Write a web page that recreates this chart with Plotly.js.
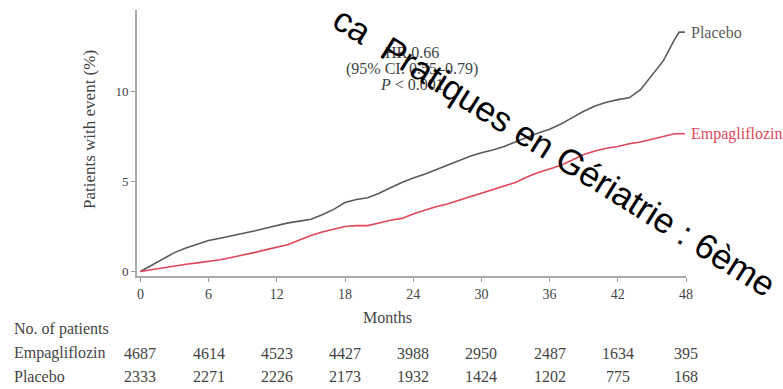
<!DOCTYPE html>
<html>
<head>
<meta charset="utf-8">
<script src="https://cdn.plot.ly/plotly-3.0.1.min.js"></script>
<style>html,body{margin:0;padding:0;background:#fff;}#chart{width:783px;height:389px;}</style>
</head>
<body>
<div id="chart"></div>
<script>
// Months (time axis)
const months = [0,1,2,3,4,5,6,7,8,9,10,11,12,13,14,15,16,17,18,19,20,21,22,23,24,25,26,27,28,29,30,31,32,33,34,35,36,37,38,39,40,41,42,43,44,45,46,47,47.4,47.9];
// Cumulative % of patients with event
const placebo = [0,0.35,0.7,1.05,1.3,1.5,1.72,1.85,1.97,2.1,2.25,2.4,2.55,2.7,2.8,2.9,3.15,3.45,3.83,4.0,4.1,4.35,4.65,4.95,5.2,5.4,5.65,5.9,6.15,6.4,6.6,6.75,6.95,7.2,7.45,7.7,7.9,8.2,8.55,8.9,9.2,9.4,9.55,9.65,10.1,10.9,11.7,12.9,13.3,13.3];
const empagliflozin = [0,0.1,0.22,0.33,0.4,0.48,0.55,0.65,0.78,0.9,1.05,1.2,1.33,1.5,1.75,2.0,2.2,2.35,2.5,2.55,2.55,2.7,2.85,2.95,3.2,3.4,3.6,3.75,3.95,4.15,4.35,4.55,4.75,4.95,5.25,5.5,5.7,5.9,6.2,6.5,6.7,6.85,6.95,7.1,7.2,7.35,7.5,7.65,7.65,7.65];
// Risk table
const riskMonths = [0,6,12,18,24,30,36,42,48];
const riskEmpa = ["4687","4614","4523","4427","3988","2950","2487","1634","395"];
const riskPlacebo = ["2333","2271","2226","2173","1932","1424","1202","775","168"];
const xTicks = [0,6,12,18,24,30,36,42,48];
const yTicks = [0,5,10];
const hrLines = ["HR 0.66", "(95% CI: 0.55–0.79)", "<i>P</i> < 0.001"];

const serif = "Liberation Serif, Times New Roman, serif";
const txt = "#444";
const gray = "#5a5a5a";
const red = "#e0475a";
const tblSize = 16;
const PL = 137, PT = 10, PW = 549, PH = 266;
const px = v => (v - PL) / PW;
const py = v => (PT + PH - v) / PH;

const traces = [
  {x: months, y: placebo, mode: "lines", line: {color: gray, width: 1.6}, hoverinfo: "skip"},
  {x: months, y: empagliflozin, mode: "lines", line: {color: red, width: 1.6}, hoverinfo: "skip"}
];

const annotations = [];
const rowY = {label: py(329), empa: py(353), plac: py(376)};
const leftX = px(12);
annotations.push({xref: "paper", yref: "paper", x: leftX, y: rowY.label, xanchor: "left", yanchor: "middle", showarrow: false, text: "No. of patients", font: {family: serif, size: tblSize, color: txt}});
annotations.push({xref: "paper", yref: "paper", x: leftX, y: rowY.empa, xanchor: "left", yanchor: "middle", showarrow: false, text: "Empagliflozin", font: {family: serif, size: tblSize, color: txt}});
annotations.push({xref: "paper", yref: "paper", x: leftX, y: rowY.plac, xanchor: "left", yanchor: "middle", showarrow: false, text: "Placebo", font: {family: serif, size: tblSize, color: txt}});
riskMonths.forEach((m, i) => {
  annotations.push({xref: "x", yref: "paper", x: m, y: rowY.empa, xanchor: "center", yanchor: "middle", showarrow: false, text: riskEmpa[i], font: {family: serif, size: tblSize, color: txt}});
  annotations.push({xref: "x", yref: "paper", x: m, y: rowY.plac, xanchor: "center", yanchor: "middle", showarrow: false, text: riskPlacebo[i], font: {family: serif, size: tblSize, color: txt}});
});
// axis titles (positioned as in the reference)
annotations.push({xref: "paper", yref: "paper", x: px(387), y: py(317), xanchor: "center", yanchor: "middle", showarrow: false, text: "Months", font: {family: serif, size: 16, color: txt}});
annotations.push({xref: "paper", yref: "paper", x: px(89), y: py(130), xanchor: "center", yanchor: "middle", showarrow: false, textangle: -90, text: "Patients with event (%)", font: {family: serif, size: 17, color: txt}});
// end-of-curve labels
annotations.push({xref: "paper", yref: "y", x: 1.005, y: placebo[placebo.length-1], xanchor: "left", yanchor: "middle", showarrow: false, text: "Placebo", font: {family: serif, size: 16, color: gray}});
annotations.push({xref: "paper", yref: "y", x: 1.005, y: empagliflozin[empagliflozin.length-1], xanchor: "left", yanchor: "middle", showarrow: false, text: "Empagliflozin", font: {family: serif, size: 16, color: red}});
// HR box
hrLines.forEach((t, i) => {
  annotations.push({xref: "paper", yref: "paper", x: px(412), y: py(53 + 16 * i), xanchor: "center", yanchor: "middle", showarrow: false, text: t, font: {family: serif, size: 16, color: txt}});
});
// watermark
annotations.push({xref: "paper", yref: "paper", x: px(555), y: py(151), xanchor: "center", yanchor: "middle", showarrow: false, textangle: 32, text: "ca\u00a0\u00a0Pratiques en Gériatrie : 6ème", font: {family: "Liberation Sans, Arial, sans-serif", size: 35, color: "#000"}});

const layout = {
  width: 783, height: 389,
  margin: {l: PL, r: 783 - PL - PW, t: PT, b: 389 - PT - PH, pad: 0},
  paper_bgcolor: "#fff", plot_bgcolor: "#fff",
  showlegend: false,
  xaxis: {
    range: [-0.3, 48], tickvals: xTicks, ticktext: xTicks.map(String),
    showgrid: false, zeroline: false, showline: true, linecolor: "#aaa", linewidth: 2,
    ticks: "outside", ticklen: 4, tickcolor: "#999", tickwidth: 1,
    tickfont: {family: serif, size: 14, color: txt}
  },
  yaxis: {
    range: [-0.25, 14.53], tickvals: yTicks, ticktext: yTicks.map(String),
    showgrid: false, zeroline: false, showline: true, linecolor: "#aaa", linewidth: 2,
    ticks: "outside", ticklen: 4, tickcolor: "#999", tickwidth: 1,
    tickfont: {family: serif, size: 13, color: txt}
  },
  annotations: annotations
};

Plotly.newPlot("chart", traces, layout, {staticPlot: true, displayModeBar: false});
</script>
</body>
</html>
